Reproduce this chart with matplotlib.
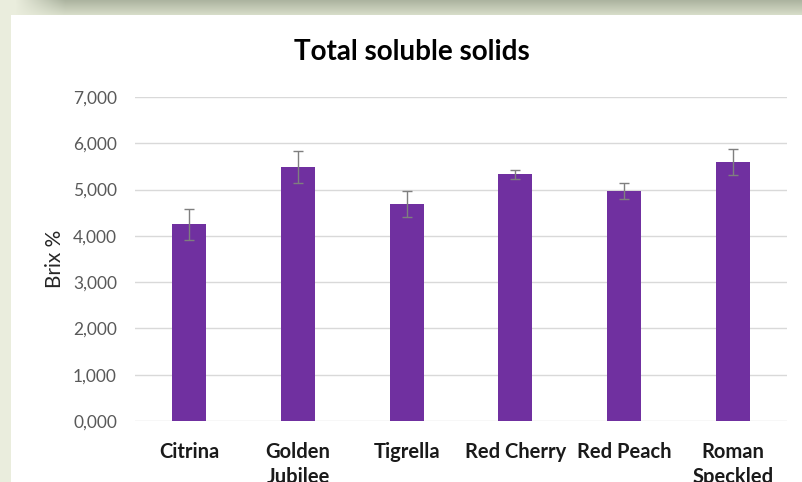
import numpy as np
import matplotlib.pyplot as plt
from matplotlib.ticker import FuncFormatter

# values
varieties = ["Citrina", "Golden\nJubilee", "Tigrella", "Red Cherry", "Red Peach", "Roman\nSpeckled"]
brix = [4.25, 5.49, 4.68, 5.33, 4.97, 5.59]
brix_err = [0.33, 0.35, 0.28, 0.10, 0.18, 0.28]
yticks = [0, 1, 2, 3, 4, 5, 6, 7]

plt.rcParams['font.family'] = ['Lato', 'DejaVu Sans']

fig = plt.figure(figsize=(8.02, 4.82), dpi=100)
fig.patch.set_facecolor("#eaeddd")

# top shadow band and white panel
bg = fig.add_axes([0, 0, 1, 1], zorder=-5)
bg.axis("off")
grad = np.linspace(0, 1, 15)[:, None] * np.ones((15, 802))
xs = np.arange(802)
shade = np.clip((xs - 15) / 50.0, 0, 1)[None, :] * np.ones((15, 1))
top = np.array([172, 180, 160]) / 255
bot = np.array([214, 220, 200]) / 255
light = np.array([234, 237, 221]) / 255
rgb = np.zeros((15, 802, 3))
for k in range(3):
    dark = top[k] + (bot[k] - top[k]) * grad
    rgb[:, :, k] = light[k] + (dark - light[k]) * shade
bg.imshow(rgb, extent=[0, 802, 15, 0], aspect="auto", interpolation="bilinear")
bg.add_patch(plt.Rectangle((11, 15), 791, 467, facecolor="white", edgecolor="none"))
bg.set_xlim(0, 802)
bg.set_ylim(482, 0)

ax = fig.add_axes([135 / 802, 1 - 421 / 482, 652 / 802, 324 / 482])
ax.set_facecolor("none")
x = np.arange(len(varieties))
ax.bar(x, brix, width=0.31, color="#7030a0", zorder=3)
ax.errorbar(x, brix, yerr=brix_err, fmt="none", ecolor="#7f7f7f", elinewidth=1,
            capsize=3.6, capthick=1, zorder=4)

ax.set_xlim(-0.5, len(varieties) - 0.5)
ax.set_ylim(0, 7)
ax.set_yticks(yticks)
ax.yaxis.set_major_formatter(FuncFormatter(lambda v, p: f"{v:.3f}".replace(".", ",")))
ax.grid(axis="y", color="#d9d9d9", linewidth=1, zorder=0)
for s in ax.spines.values():
    s.set_visible(False)
ax.tick_params(axis="y", length=0, pad=13, labelsize=12.5, labelcolor="#595959")
ax.tick_params(axis="x", length=0, pad=15)
ax.set_xticks(x)
ax.set_xticklabels(varieties, fontsize=14.5, fontweight="bold", color="#1a1a1a",
                   linespacing=1.3, va="top")
ax.set_ylabel("Brix %", fontsize=15, color="#262626", labelpad=6)

fig.text(412 / 802, 1 - 52 / 482, "Total soluble solids", ha="center", va="center",
         fontsize=20, fontweight="bold", color="#000000")

fig.savefig("out.png", dpi=100)
